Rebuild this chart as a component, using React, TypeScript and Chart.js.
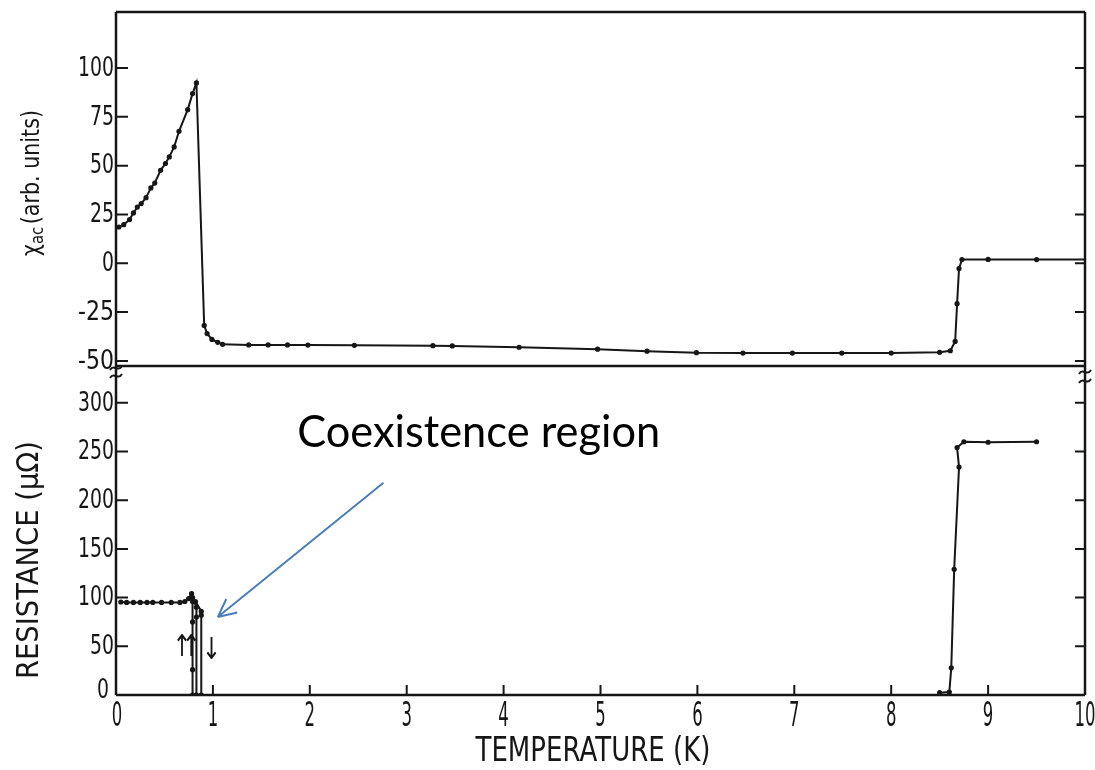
import React, { useEffect, useRef } from 'react';
import { Chart, registerables } from 'chart.js';

Chart.register(...registerables);

// ---- data ----
const chiTemp = [0.03, 0.08, 0.14, 0.18, 0.22, 0.26, 0.31, 0.36, 0.40, 0.46, 0.51, 0.55, 0.60, 0.65, 0.74, 0.79, 0.83, 0.91, 0.94, 0.99, 1.05, 1.10, 1.37, 1.57, 1.77, 1.98, 2.46, 3.27, 3.47, 4.16, 4.97, 5.48, 5.99, 6.47, 6.98, 7.49, 8.00, 8.50, 8.61, 8.66, 8.68, 8.70, 8.73, 9.00, 9.50, 10.0];
const chiValue = [18.6, 19.8, 22.4, 25.8, 28.8, 30.6, 33.6, 38.6, 41.1, 47.6, 51.1, 54.5, 59.6, 67.6, 78.7, 86.9, 92.4, -31.8, -36.0, -39.0, -40.5, -41.5, -41.8, -41.8, -41.8, -41.9, -42.0, -42.2, -42.3, -43.0, -44.0, -45.0, -45.8, -46.0, -46.0, -46.0, -46.0, -45.6, -44.8, -40.0, -20.7, -2.7, 1.9, 2.0, 1.9, 1.9];

const resTempA = [0.05, 0.11, 0.18, 0.25, 0.32, 0.38, 0.47, 0.57, 0.66, 0.71, 0.75, 0.78, 0.79, 0.79, 0.79, 0.79];
const resValueA = [95.5, 95, 95, 95, 95, 95, 95, 95, 95, 96, 99, 104, 96, 75, 26, 0];
const resTempB = [0.79, 0.83, 0.83, 0.83];
const resValueB = [100, 90, 80, 0];
const resTempC = [0.82, 0.88, 0.88, 0.88];
const resValueC = [96, 86, 82, 0];
const resTempD = [8.50, 8.60, 8.62, 8.65, 8.70, 8.68, 8.75, 9.00, 9.50];
const resValueD = [2.4, 3, 28, 129, 234, 254, 260, 259.5, 260];

const chiTicks = [-50, -25, 0, 25, 50, 75, 100];
const resTicks = [0, 50, 100, 150, 200, 250, 300];
const tempTicks = [0, 1, 2, 3, 4, 5, 6, 7, 8, 9, 10];

// hysteresis arrows in the resistance panel
const upArrows = [0.68, 0.775];
const downArrows = [0.985];
const arrowGlyphRes = 48;

// annotation
const noteText = 'Coexistence region';
const noteAt = { x: 1.87, y: 254.5 };
const noteArrowFrom = { x: 2.76, y: 218 };
const noteArrowTo = { x: 1.05, y: 80 };

const FONT = "'DejaVu Sans', 'Liberation Sans', sans-serif";
const INK = '#161616';

function pts(xs: number[], ys: number[]) {
  return xs.map((x, i) => ({ x, y: ys[i] }));
}

// draws text horizontally squeezed by sx, anchored by align
function drawText(ctx: CanvasRenderingContext2D, text: string, x: number, y: number, px: number, sx: number, align: CanvasTextAlign, rot = 0) {
  ctx.save();
  ctx.font = `${px}px ${FONT}`;
  ctx.translate(x, y);
  ctx.rotate(rot);
  ctx.scale(sx, 1);
  ctx.textAlign = align;
  ctx.textBaseline = 'middle';
  ctx.fillText(text, 0, 0);
  ctx.restore();
}

function measure(ctx: CanvasRenderingContext2D, text: string, px: number) {
  ctx.save();
  ctx.font = `${px}px ${FONT}`;
  const w = ctx.measureText(text).width;
  ctx.restore();
  return w;
}

function fitText(ctx: CanvasRenderingContext2D, text: string, cx: number, cy: number, px: number, width: number, rot: number, align: CanvasTextAlign = 'center') {
  const w = measure(ctx, text, px);
  drawText(ctx, text, cx, cy, px, width / w, align, rot);
}

const decor = {
  id: 'decor',
  afterDraw(chart: any) {
    const { ctx, chartArea: ca, scales } = chart;
    const sx = scales.x, yc = scales.yChi, yr = scales.yRes;
    const mid = yc.bottom;
    ctx.save();
    ctx.strokeStyle = INK;
    ctx.fillStyle = INK;
    ctx.lineCap = 'butt';
    // frame
    ctx.lineWidth = 2.5;
    ctx.beginPath();
    ctx.moveTo(ca.left, ca.top); ctx.lineTo(ca.right, ca.top);
    ctx.moveTo(ca.left, ca.top); ctx.lineTo(ca.left, ca.bottom);
    ctx.moveTo(ca.right, ca.top); ctx.lineTo(ca.right, ca.bottom);
    ctx.moveTo(ca.left, ca.bottom); ctx.lineTo(ca.right, ca.bottom);
    ctx.moveTo(ca.left, mid); ctx.lineTo(ca.right, mid);
    ctx.stroke();
    // inward ticks
    ctx.lineWidth = 2;
    ctx.beginPath();
    chiTicks.forEach((v) => {
      const py = yc.getPixelForValue(v);
      ctx.moveTo(ca.left, py); ctx.lineTo(ca.left + 12, py);
      ctx.moveTo(ca.right - 10, py); ctx.lineTo(ca.right, py);
    });
    resTicks.filter((v) => v > 0).forEach((v) => {
      const py = yr.getPixelForValue(v);
      ctx.moveTo(ca.left, py); ctx.lineTo(ca.left + 12, py);
      ctx.moveTo(ca.right - 10, py); ctx.lineTo(ca.right, py);
    });
    tempTicks.filter((v) => v > 0 && v < 10).forEach((v) => {
      const px = sx.getPixelForValue(v);
      ctx.moveTo(px, ca.bottom); ctx.lineTo(px, ca.bottom - 10);
    });
    ctx.stroke();

    // tick labels (condensed, fitted per character)
    chiTicks.forEach((v) => {
      const s = String(v);
      fitText(ctx, s, ca.left - 2, yc.getPixelForValue(v) + 1, 26, s.length * 12, 0, 'right');
    });
    resTicks.forEach((v) => {
      const s = String(v);
      const py = yr.getPixelForValue(v) - (v === 0 ? 5 : 0) + 1;
      fitText(ctx, s, ca.left - (v === 0 ? 7 : 2), py, 26, s.length * 12, 0, 'right');
    });
    tempTicks.forEach((v) => {
      const s = String(v);
      fitText(ctx, s, sx.getPixelForValue(v) + (v === 0 ? 1 : 0), ca.bottom + 22, 34, s.length * 10.5, 0, 'center');
    });

    // axis breaks
    const squiggle = (x: number, y: number) => {
      ctx.beginPath();
      ctx.moveTo(x - 6, y + 2);
      ctx.bezierCurveTo(x - 2, y - 5, x + 2, y + 5, x + 6, y - 2);
      ctx.stroke();
    };
    ctx.lineWidth = 2;
    squiggle(ca.left, mid + 2);
    squiggle(ca.left, mid + 10);
    squiggle(ca.right, mid + 6);
    squiggle(ca.right, mid + 15);

    // chi_ac (arb. units), rotated
    ctx.save();
    ctx.translate(32, 183);
    ctx.rotate(-Math.PI / 2);
    ctx.textBaseline = 'middle';
    ctx.textAlign = 'left';
    const p1 = 'χ', p2 = 'ac', p3 = '(arb. units)';
    ctx.font = `25px ${FONT}`;
    const w1 = ctx.measureText(p1).width;
    const w3 = ctx.measureText(p3).width;
    ctx.font = `18px ${FONT}`;
    const w2 = ctx.measureText(p2).width;
    const gap = 3;
    const total = w1 + w2 + gap + w3;
    ctx.scale(146 / total, 1);
    let tx = -total / 2;
    ctx.font = `25px ${FONT}`;
    ctx.fillText(p1, tx, 0); tx += w1;
    ctx.font = `18px ${FONT}`;
    ctx.fillText(p2, tx, 6); tx += w2 + gap;
    ctx.font = `25px ${FONT}`;
    ctx.fillText(p3, tx, 0);
    ctx.restore();

    fitText(ctx, 'RESISTANCE (μΩ)', 30, 560, 30, 238, -Math.PI / 2);
    fitText(ctx, 'TEMPERATURE (K)', 593, 752, 33, 235, 0);

    // hysteresis arrows
    upArrows.forEach((t) => {
      drawText(ctx, '↑', sx.getPixelForValue(t), yr.getPixelForValue(arrowGlyphRes), 30, 0.75, 'center');
    });
    downArrows.forEach((t) => {
      drawText(ctx, '↓', sx.getPixelForValue(t), yr.getPixelForValue(arrowGlyphRes - 3), 30, 0.75, 'center');
    });

    // annotation text
    ctx.save();
    ctx.font = `44px Lato, 'Open Sans', sans-serif`;
    const nw = ctx.measureText(noteText).width;
    const nx = sx.getPixelForValue(noteAt.x);
    const ny = yr.getPixelForValue(noteAt.y);
    ctx.translate(nx, ny);
    ctx.scale(363 / nw, 1);
    ctx.textAlign = 'left';
    ctx.textBaseline = 'alphabetic';
    ctx.fillStyle = '#000';
    ctx.fillText(noteText, 0, 0);
    ctx.restore();

    // annotation arrow
    const ax0 = sx.getPixelForValue(noteArrowFrom.x), ay0 = yr.getPixelForValue(noteArrowFrom.y);
    const ax1 = sx.getPixelForValue(noteArrowTo.x), ay1 = yr.getPixelForValue(noteArrowTo.y);
    const ang = Math.atan2(ay1 - ay0, ax1 - ax0);
    ctx.strokeStyle = '#4A7EBB';
    ctx.lineWidth = 2;
    ctx.beginPath();
    ctx.moveTo(ax0, ay0); ctx.lineTo(ax1, ay1);
    const hl = 20, ha = Math.PI / 7;
    ctx.moveTo(ax1, ay1); ctx.lineTo(ax1 - hl * Math.cos(ang - ha), ay1 - hl * Math.sin(ang - ha));
    ctx.moveTo(ax1, ay1); ctx.lineTo(ax1 - hl * Math.cos(ang + ha), ay1 - hl * Math.sin(ang + ha));
    ctx.stroke();
    ctx.restore();
  },
};

function lineSet(data: { x: number; y: number }[], axis: string) {
  return {
    data,
    yAxisID: axis,
    borderColor: INK,
    backgroundColor: INK,
    borderWidth: 2,
    pointRadius: (c: any) => (c.raw && c.raw.x >= 10 ? 0 : 2.6),
    pointBorderWidth: 0,
    pointHoverRadius: 0,
    tension: 0,
    fill: false,
  };
}

const hiddenTicks = { display: false };
const noGrid = { display: false, drawTicks: false, tickLength: 0 };

export default function App() {
  const ref = useRef<HTMLCanvasElement | null>(null);
  useEffect(() => {
    if (!ref.current) return;
    const chart = new Chart(ref.current, {
      type: 'line',
      data: {
        datasets: [
          lineSet(pts(chiTemp, chiValue), 'yChi'),
          lineSet(pts(resTempA, resValueA), 'yRes'),
          lineSet(pts(resTempB, resValueB), 'yRes'),
          lineSet(pts(resTempC, resValueC), 'yRes'),
          lineSet(pts(resTempD, resValueD), 'yRes'),
        ] as any,
      },
      options: {
        animation: false,
        responsive: false,
        devicePixelRatio: 1,
        events: [],
        layout: { padding: { top: 12, right: 10, left: 0, bottom: 0 } },
        plugins: { legend: { display: false }, tooltip: { enabled: false }, title: { display: false } },
        scales: {
          x: {
            type: 'linear',
            position: 'bottom',
            min: 0,
            max: 10,
            afterBuildTicks: (s: any) => { s.ticks = tempTicks.map((v) => ({ value: v })); },
            afterFit: (s: any) => { s.height = 75; s.paddingLeft = 0; s.paddingRight = 0; },
            grid: noGrid,
            border: { display: false },
            ticks: hiddenTicks,
          },
          yRes: {
            type: 'linear',
            position: 'left',
            stack: 'panels',
            stackWeight: 329,
            min: 0,
            max: 337.8,
            afterBuildTicks: (s: any) => { s.ticks = resTicks.map((v) => ({ value: v })); },
            afterFit: (s: any) => { s.width = 116; s.paddingTop = 0; s.paddingBottom = 0; },
            grid: noGrid,
            border: { display: false },
            ticks: hiddenTicks,
          },
          yChi: {
            type: 'linear',
            position: 'left',
            stack: 'panels',
            stackWeight: 354,
            min: -52.6,
            max: 128.7,
            afterBuildTicks: (s: any) => { s.ticks = chiTicks.map((v) => ({ value: v })); },
            afterFit: (s: any) => { s.width = 116; s.paddingTop = 0; s.paddingBottom = 0; },
            grid: noGrid,
            border: { display: false },
            ticks: hiddenTicks,
          },
        } as any,
      },
      plugins: [decor],
    });
    return () => chart.destroy();
  }, []);
  return (
    <div style={{ position: 'absolute', left: 0, top: 0, width: 1095, height: 770, background: '#fff' }}>
      <canvas ref={ref} width={1095} height={770} style={{ display: 'block' }} />
    </div>
  );
}
